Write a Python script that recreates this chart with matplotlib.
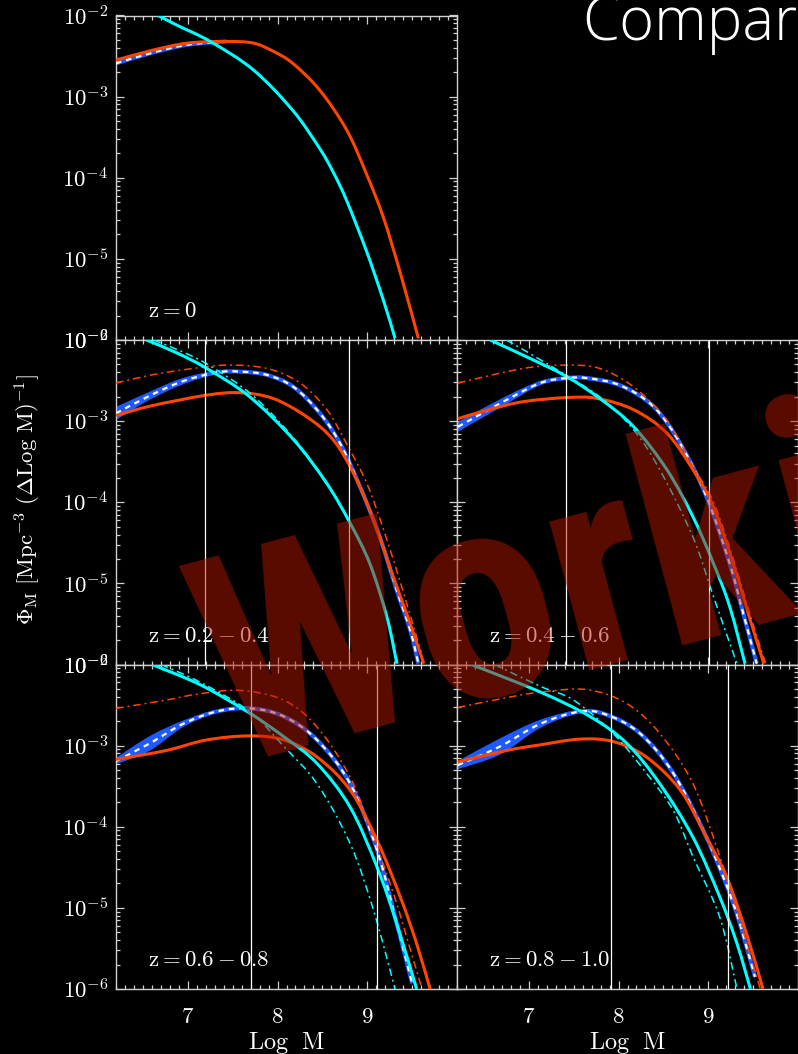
import numpy as np
import matplotlib
matplotlib.use('Agg')
import matplotlib.pyplot as plt
from matplotlib import ticker, font_manager
from matplotlib.path import Path
from matplotlib.patches import PathPatch
from matplotlib.textpath import TextPath

plt.rcParams['mathtext.fontset'] = 'cm'
plt.rcParams['lines.scale_dashes'] = False

# ---- valores (x = Log M, y = log10 Phi) ----
labels = ['z=0', 'z=0.2-0.4', 'z=0.4-0.6', 'z=0.6-0.8', 'z=0.8-1.0']

# z=0
A_cyan_x = [6.67, 6.88, 7.25, 7.73, 8.17, 8.47, 8.62, 8.77, 8.99, 9.18, 9.31]
A_cyan_y = [-2.0, -2.12, -2.32, -2.67, -3.17, -3.64, -3.93, -4.28, -4.90, -5.51, -5.98]
A_orng_x = [6.2, 6.6, 7.0, 7.43, 7.73, 7.95, 8.17, 8.47, 8.77, 8.99, 9.18, 9.37, 9.57]
A_orng_y = [-2.55, -2.43, -2.34, -2.32, -2.34, -2.44, -2.59, -2.92, -3.41, -3.95, -4.49, -5.18, -5.98]
A_mod_x = [6.2, 6.6, 7.0, 7.43]
A_mod_y = [-2.59, -2.46, -2.36, -2.32]
A_mod_e = [0.01, 0.01, 0.01, 0.01]

# z=0.2-0.4
B_cyan_x = [6.54, 6.88, 7.21, 7.69, 8.18, 8.55, 8.81, 9.03, 9.22, 9.33]
B_cyan_y = [-2.0, -2.16, -2.35, -2.70, -3.23, -3.77, -4.26, -4.76, -5.42, -5.99]
B_cydd_x = [6.62, 6.95, 7.25, 7.72, 8.18, 8.55, 8.81, 9.03, 9.22, 9.34]
B_cydd_y = [-2.0, -2.15, -2.32, -2.68, -3.21, -3.76, -4.25, -4.75, -5.41, -5.99]
B_orng_x = [6.2, 6.6, 7.21, 7.58, 7.95, 8.33, 8.62, 8.85, 9.07, 9.29, 9.48, 9.63]
B_orng_y = [-2.93, -2.81, -2.68, -2.65, -2.72, -2.95, -3.23, -3.65, -4.22, -4.92, -5.50, -5.99]
B_ordd_x = [6.2, 6.6, 7.0, 7.43, 7.88, 8.25, 8.55, 8.77, 9.0, 9.2, 9.4, 9.6]
B_ordd_y = [-2.53, -2.43, -2.36, -2.31, -2.35, -2.53, -2.86, -3.28, -3.78, -4.40, -5.10, -5.85]
B_mod_x = [6.2, 6.57, 6.94, 7.32, 7.58, 7.88, 8.18, 8.47, 8.70, 8.92, 9.14, 9.33, 9.48, 9.57]
B_mod_y = [-2.905, -2.69, -2.51, -2.40, -2.39, -2.43, -2.58, -2.90, -3.28, -3.81, -4.43, -5.09, -5.58, -5.99]
B_mod_e = [0.08, 0.05, 0.04, 0.02, 0.015, 0.015, 0.02, 0.02, 0.025, 0.03, 0.03, 0.035, 0.04, 0.04]

# z=0.4-0.6
C_cyan_x = [6.57, 7.0, 7.42, 7.79, 8.17, 8.54, 8.83, 9.06, 9.24, 9.41]
C_cyan_y = [-2.0, -2.22, -2.45, -2.72, -3.07, -3.60, -4.18, -4.76, -5.29, -5.99]
C_cydd_x = [6.75, 7.2, 7.79, 8.17, 8.46, 8.83, 9.06, 9.32]
C_cydd_y = [-2.0, -2.29, -2.70, -3.11, -3.60, -4.43, -5.17, -5.99]
C_orng_x = [6.21, 6.55, 6.94, 7.42, 7.76, 8.17, 8.54, 8.83, 9.06, 9.28, 9.47, 9.62]
C_orng_y = [-2.97, -2.86, -2.76, -2.71, -2.72, -2.86, -3.15, -3.60, -4.06, -4.76, -5.46, -5.99]
C_ordd_x = [6.21, 6.94, 7.42, 7.79, 8.17, 8.54, 8.83, 9.06, 9.28, 9.47, 9.64]
C_ordd_y = [-2.53, -2.35, -2.31, -2.35, -2.58, -2.99, -3.56, -4.00, -4.70, -5.40, -5.99]
C_mod_x = [6.21, 6.75, 7.13, 7.42, 7.65, 8.02, 8.39, 8.69, 8.98, 9.24, 9.39, 9.54]
C_mod_y = [-3.07, -2.74, -2.53, -2.47, -2.47, -2.56, -2.82, -3.28, -3.93, -4.76, -5.37, -5.99]
C_mod_e = [0.06, 0.05, 0.025, 0.02, 0.02, 0.02, 0.02, 0.025, 0.03, 0.03, 0.03, 0.03]

# z=0.6-0.8
D_cyan_x = [6.60, 7.14, 7.69, 8.07, 8.44, 8.81, 9.11, 9.33, 9.55]
D_cyan_y = [-2.0, -2.25, -2.60, -2.89, -3.22, -3.76, -4.50, -5.20, -6.0]
D_cydd_x = [6.70, 7.14, 7.69, 8.07, 8.44, 8.81, 9.07, 9.31]
D_cydd_y = [-2.0, -2.22, -2.58, -3.01, -3.47, -4.21, -5.03, -6.0]
D_orng_x = [6.2, 6.76, 7.21, 7.69, 8.07, 8.44, 8.81, 9.11, 9.37, 9.55, 9.70]
D_orng_y = [-3.17, -3.06, -2.93, -2.88, -2.93, -3.14, -3.55, -4.17, -4.87, -5.44, -6.0]
D_ordd_x = [6.2, 6.7, 7.14, 7.59, 8.07, 8.44, 8.81, 9.07, 9.30, 9.45, 9.61]
D_ordd_y = [-2.54, -2.45, -2.36, -2.32, -2.44, -2.77, -3.39, -4.13, -4.85, -5.40, -6.0]
D_mod_x = [6.2, 6.58, 6.95, 7.32, 7.69, 8.07, 8.44, 8.81, 9.11, 9.33, 9.50]
D_mod_y = [-3.19, -2.97, -2.73, -2.58, -2.54, -2.64, -2.93, -3.47, -4.29, -5.20, -5.93]
D_mod_e = [0.04, 0.09, 0.04, 0.02, 0.02, 0.02, 0.025, 0.03, 0.03, 0.035, 0.04]

# z=0.8-1.0
E_cyan_x = [6.36, 7.13, 7.68, 8.09, 8.46, 8.83, 9.13, 9.32, 9.47]
E_cyan_y = [-2.0, -2.34, -2.64, -2.97, -3.47, -4.13, -4.87, -5.44, -6.0]
E_cydd_x = [6.62, 7.13, 7.50, 7.94, 8.31, 8.61, 8.83, 9.13, 9.32]
E_cydd_y = [-2.0, -2.27, -2.44, -2.85, -3.34, -3.80, -4.37, -5.12, -6.0]
E_orng_x = [6.21, 6.75, 7.13, 7.57, 7.94, 8.31, 8.69, 8.98, 9.21, 9.43, 9.61]
E_orng_y = [-3.20, -3.06, -2.99, -2.92, -2.95, -3.14, -3.55, -4.13, -4.63, -5.33, -6.0]
E_ordd_x = [6.21, 6.7, 7.13, 7.65, 8.09, 8.46, 8.83, 9.13, 9.35, 9.58]
E_ordd_y = [-2.53, -2.42, -2.34, -2.31, -2.48, -2.85, -3.47, -4.37, -5.15, -6.0]
E_mod_x = [6.21, 6.68, 7.13, 7.57, 7.87, 8.24, 8.61, 8.98, 9.28, 9.47, 9.52]
E_mod_y = [-3.24, -3.01, -2.73, -2.58, -2.62, -2.85, -3.34, -4.13, -4.95, -5.65, -5.85]
E_mod_e = [0.05, 0.10, 0.05, 0.02, 0.02, 0.02, 0.03, 0.03, 0.035, 0.04, 0.04]

# lineas verticales
B_vlines = [7.19, 8.80]
C_vlines = [7.41, 9.01]
D_vlines = [7.70, 9.11]
E_vlines = [7.92, 9.22]

CYAN = '#00ffff'
ORNG = '#ff4500'
BLUE = '#1e5aff'
AXC = '#d0d0d0'


def bez(x, ly):
    # curva suave (Catmull-Rom -> Bezier) que pasa por los puntos leidos, en espacio log
    x = np.asarray(x, float)
    ly = np.asarray(ly, float)
    n = len(x)
    v = [(x[0], ly[0])]
    c = [Path.MOVETO]
    for i in range(n - 1):
        i0, i3 = max(i - 1, 0), min(i + 2, n - 1)
        p0 = np.array([x[i0], ly[i0]])
        p1 = np.array([x[i], ly[i]])
        p2 = np.array([x[i + 1], ly[i + 1]])
        p3 = np.array([x[i3], ly[i3]])
        v += [tuple(p1 + (p2 - p0) / 6), tuple(p2 - (p3 - p1) / 6), tuple(p2)]
        c += [Path.CURVE4] * 3
    return v, c


def to_data(v):
    v = np.array(v)
    v[:, 1] = 10 ** v[:, 1]
    return v


def curve(ax, x, ly, **kw):
    v, c = bez(x, ly)
    ax.add_patch(PathPatch(Path(to_data(v), c), fill=False, joinstyle='round', **kw))


def band(ax, x, ly, e, **kw):
    x = np.asarray(x, float)
    ly = np.asarray(ly, float)
    e = np.asarray(e, float)
    vu, cu = bez(x, ly + e)
    vl, cl = bez(x[::-1], (ly - e)[::-1])
    cl[0] = Path.LINETO
    v = vu + vl + [vu[0]]
    c = cu + cl + [Path.CLOSEPOLY]
    ax.add_patch(PathPatch(Path(to_data(v), c), lw=0, **kw))


W, H = 798, 1054
fig = plt.figure(figsize=(W / 100, H / 100), dpi=100, facecolor='black')


def rect(x0, y0, x1, y1):
    return [x0 / W, 1 - y1 / H, (x1 - x0) / W, (y1 - y0) / H]


yt, y1, y2, yb = 15.5, 340, 664.5, 989
xl, xm, xr = 116, 457, 798

panels = [
    dict(r=rect(xl, yt, xm, y1), mod=(A_mod_x, A_mod_y, A_mod_e), orng=(A_orng_x, A_orng_y),
         ordd=None, cyan=(A_cyan_x, A_cyan_y), cydd=None, vl=[], ylab=True, xlab=False),
    dict(r=rect(xl, y1, xm, y2), mod=(B_mod_x, B_mod_y, B_mod_e), orng=(B_orng_x, B_orng_y),
         ordd=(B_ordd_x, B_ordd_y), cyan=(B_cyan_x, B_cyan_y), cydd=(B_cydd_x, B_cydd_y),
         vl=B_vlines, ylab=True, xlab=False),
    dict(r=rect(xm, y1, xr, y2), mod=(C_mod_x, C_mod_y, C_mod_e), orng=(C_orng_x, C_orng_y),
         ordd=(C_ordd_x, C_ordd_y), cyan=(C_cyan_x, C_cyan_y), cydd=(C_cydd_x, C_cydd_y),
         vl=C_vlines, ylab=False, xlab=False),
    dict(r=rect(xl, y2, xm, yb), mod=(D_mod_x, D_mod_y, D_mod_e), orng=(D_orng_x, D_orng_y),
         ordd=(D_ordd_x, D_ordd_y), cyan=(D_cyan_x, D_cyan_y), cydd=(D_cydd_x, D_cydd_y),
         vl=D_vlines, ylab=True, xlab=True),
    dict(r=rect(xm, y2, xr, yb), mod=(E_mod_x, E_mod_y, E_mod_e), orng=(E_orng_x, E_orng_y),
         ordd=(E_ordd_x, E_ordd_y), cyan=(E_cyan_x, E_cyan_y), cydd=(E_cydd_x, E_cydd_y),
         vl=E_vlines, ylab=False, xlab=True),
]

dashdot = (0, (5.5, 2.8, 1.4, 2.8))

for p, lab in zip(panels, labels):
    ax = fig.add_axes(p['r'])
    ax.set_facecolor('black')
    ax.set_yscale('log')
    ax.set_xlim(6.2, 10.0)
    ax.set_ylim(1e-6, 1e-2)

    mx, my, me = p['mod']
    band(ax, mx, my, me, facecolor=BLUE, zorder=2)
    curve(ax, mx, my, edgecolor=BLUE, lw=3.0, zorder=2)
    curve(ax, mx, my, edgecolor='white', lw=1.6, linestyle=(0, (4, 3.5)), zorder=3)
    if p['ordd']:
        curve(ax, *p['ordd'], edgecolor=ORNG, lw=1.1, linestyle=dashdot, zorder=4)
    curve(ax, *p['orng'], edgecolor=ORNG, lw=2.2, zorder=4)
    if p['cydd']:
        curve(ax, *p['cydd'], edgecolor=CYAN, lw=1.1, linestyle=dashdot, zorder=5)
    curve(ax, *p['cyan'], edgecolor=CYAN, lw=2.2, zorder=5)
    for v in p['vl']:
        ax.axvline(v, color='white', lw=0.9, zorder=6)

    ax.text(0.094, 0.09, r'$\mathrm{%s}$' % lab, transform=ax.transAxes,
            color='white', fontsize=16.5, va='center', ha='left')

    for s in ax.spines.values():
        s.set_color(AXC)
        s.set_linewidth(1.0)
    ax.xaxis.set_major_locator(ticker.FixedLocator([7, 8, 9]))
    ax.xaxis.set_minor_locator(ticker.MultipleLocator(0.1))
    ax.xaxis.set_major_formatter(ticker.FuncFormatter(lambda v, pos: r'$%d$' % round(v)))
    ax.yaxis.set_major_locator(ticker.LogLocator(base=10, numticks=10))
    ax.yaxis.set_minor_locator(ticker.LogLocator(base=10, subs=np.arange(2, 10), numticks=10))
    ax.yaxis.set_major_formatter(ticker.FuncFormatter(lambda v, pos: r'$10^{%d}$' % round(np.log10(v))))
    ax.yaxis.set_minor_formatter(ticker.NullFormatter())
    ax.tick_params(which='both', direction='in', top=True, right=True,
                   color=AXC, labelcolor='white', labelsize=16.5, width=0.9)
    ax.tick_params(which='major', length=6)
    ax.tick_params(which='minor', length=3)
    ax.tick_params(axis='y', pad=5.5)
    ax.tick_params(axis='x', pad=11.5)
    ax.tick_params(labelbottom=p['xlab'], labelleft=p['ylab'])
    if p['xlab']:
        ax.set_xlabel(r'$\mathrm{Log\ \ M}$', color='white', fontsize=17.5, labelpad=1.5)

fig.text(28 / W, 1 - 500 / H,
         r'$\Phi_\mathrm{M}\ [\mathrm{Mpc}^{-3}\ (\Delta\mathrm{Log\ M})^{-1}]$',
         rotation=90, color='white', fontsize=16.5, ha='center', va='center')

fig.text(582 / W, 1 - 40 / H, 'Comparison', color='white', fontsize=43,
         family='Open Sans', weight='light', va='baseline', ha='left')

# marca de agua: fuente gruesa mas estrecha entre las instaladas
def wnum(w):
    return w if isinstance(w, (int, float)) else font_manager.weight_dict.get(w, 400)

ok_names = ['Liberation Sans Narrow', 'Roboto Condensed', 'Open Sans Condensed',
            'DejaVu Sans', 'Liberation Sans', 'Roboto', 'Noto Sans', 'Open Sans', 'Lato', 'Inter']
best = None
for f in font_manager.fontManager.ttflist:
    if f.name not in ok_names or f.style != 'normal' or wnum(f.weight) < 700:
        continue
    fpc = font_manager.FontProperties(fname=f.fname)
    try:
        tw = TextPath((0, 0), 'Worki', size=100, prop=fpc).get_extents().width
        th = TextPath((0, 0), 'W', size=100, prop=fpc).get_extents().height
    except Exception:
        continue
    if th < 50:
        continue
    if best is None or tw / th < best[0]:
        best = (tw / th, f.fname, tw, th)
if best:
    fp = font_manager.FontProperties(fname=best[1])
    tw, th = best[2], best[3]
else:
    fp = font_manager.FontProperties(family='DejaVu Sans', weight='bold')
    tw = TextPath((0, 0), 'Worki', size=100, prop=fp).get_extents().width
    th = TextPath((0, 0), 'W', size=100, prop=fp).get_extents().height
size_w = 565 * 72 / tw
size_h = 245 * 72 / th
fp.set_size(size_w ** 0.55 * size_h ** 0.45)
fig.text(226 / W, 1 - 766 / H, 'Working', fontproperties=fp,
         color=(180 / 255, 24 / 255, 0), alpha=0.5, rotation=15,
         rotation_mode='anchor', ha='left', va='baseline', zorder=20)

fig.savefig('out.png', dpi=100, facecolor='black')
